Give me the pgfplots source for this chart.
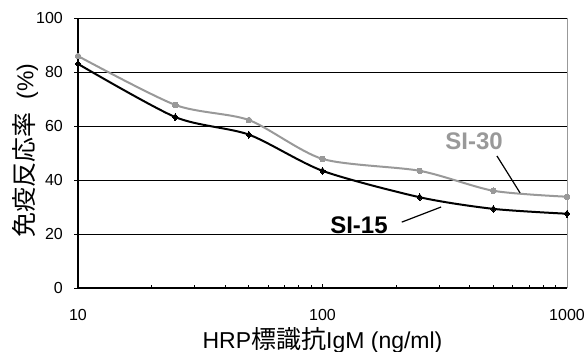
\documentclass[border=0pt]{standalone}
\usepackage{fontspec}
\setmainfont{Liberation Sans}
\newfontfamily\cjk{Noto Sans CJK JP}
\usepackage{pgfplots}
\pgfplotsset{compat=1.18}
\definecolor{sigray}{RGB}{153,153,153}
\begin{document}
\begin{tikzpicture}[x=1pt,y=1pt]
\path[use as bounding box] (-78,-64) rectangle (509,288);
\begin{axis}[
  at={(0,0)}, anchor=south west,
  scale only axis, width=489pt, height=270pt,
  xmode=log, xmin=10, xmax=1000, ymin=0, ymax=100,
  ytick={0,20,40,60,80,100},
  xtick={10,100,1000}, xticklabels={10,100,1000},
  axis x line*=bottom, axis y line*=left,
  axis line style={black, line width=1.1pt, -},
  ymajorgrids, grid style={black, line width=0.9pt},
  xtick align=inside, ytick align=outside,
  major tick length=4pt, minor tick length=3pt,
  tick style={black, line width=0.9pt},
  /pgf/number format/assume math mode=true,
  x tick label style={font=\fontsize{16}{16}\selectfont, anchor=center, yshift=-27pt},
  y tick label style={font=\fontsize{16}{16}\selectfont, anchor=east, inner sep=0pt, xshift=-11pt},
  xlabel={HRP{\cjk\fontsize{25}{25}\selectfont 標識抗}IgM (ng/ml)},
  ylabel={{\cjk\fontsize{25}{25}\selectfont 免疫反応率}\fontsize{23}{23}\selectfont\ \ (\%)},
  xlabel style={font=\fontsize{23}{23}\selectfont, at={(axis description cs:0.5,-0.193)}, anchor=center},
  ylabel style={font=\fontsize{23}{23}\selectfont, at={(axis description cs:-0.108,0.51)}, anchor=center},
  clip=false,
]
\draw[sigray, line width=1pt] (rel axis cs:1,0) -- (rel axis cs:1,1);
\addplot[sigray, line width=2pt, smooth, tension=0.45, mark=*, mark size=2.8pt, mark options={fill=sigray, draw=sigray, line width=0pt}]
  coordinates {(10,85.9)(25,67.8)(50,62.2)(100,47.8)(250,43.4)(500,36)(1000,33.8)};
\addplot[black, line width=2pt, smooth, tension=0.45, mark=diamond*, mark size=3.4pt, mark options={fill=black, draw=black, line width=0pt}]
  coordinates {(10,83)(25,63.3)(50,56.8)(100,43.4)(250,33.6)(500,29.3)(1000,27.5)};
\node[font=\fontsize{24}{24}\selectfont\bfseries, text=sigray] at (axis cs:417,54.4) {SI-30};
\node[font=\fontsize{24}{24}\selectfont\bfseries, text=black] at (axis cs:141,23.3) {SI-15};
\draw[black, line width=1.2pt] (axis cs:517,48.9) -- (axis cs:643,35.2);
\draw[black, line width=1.2pt] (axis cs:211,24.4) -- (axis cs:305.6,30);
\end{axis}
\end{tikzpicture}
\end{document}
